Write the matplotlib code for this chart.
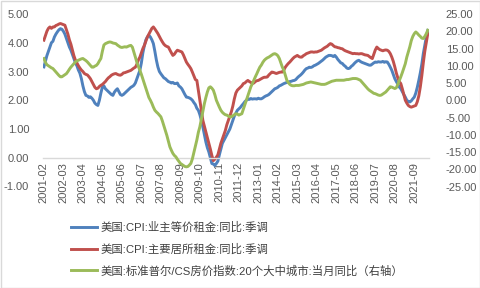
import numpy as np
import pandas as pd
import matplotlib
matplotlib.use('Agg')
import matplotlib.pyplot as plt
from matplotlib.patches import Rectangle
from matplotlib.ticker import FormatStrFormatter

months = pd.period_range('2001-02', periods=257, freq='M')

# 美国:CPI:业主等价租金:同比:季调 (%)
oer = [
    3.16, 3.35, 3.55, 3.70, 3.85, 4.00, 4.05, 4.20, 4.30, 4.38, 4.45, 4.49,
    4.47, 4.40, 4.30, 4.15, 4.00, 3.85, 3.74, 3.60, 3.45, 3.30, 3.20, 3.05,
    2.94, 2.75, 2.50, 2.30, 2.17, 2.15, 2.10, 2.12, 2.07, 2.00, 1.90, 1.85,
    1.82, 2.00, 2.25, 2.46, 2.50, 2.40, 2.35, 2.30, 2.25, 2.20, 2.17, 2.28,
    2.35, 2.40, 2.30, 2.20, 2.17, 2.20, 2.25, 2.30, 2.35, 2.40, 2.45, 2.48,
    2.52, 2.60, 2.75, 2.90, 3.04, 3.30, 3.65, 3.90, 4.10, 4.20, 4.26, 4.20,
    4.10, 3.97, 3.70, 3.40, 3.16, 3.00, 2.92, 2.85, 2.78, 2.75, 2.70, 2.65,
    2.63, 2.60, 2.62, 2.58, 2.58, 2.60, 2.50, 2.46, 2.40, 2.30, 2.20, 2.11,
    2.10, 2.08, 2.05, 2.00, 1.92, 1.85, 1.72, 1.65, 1.50, 1.30, 1.07, 0.80,
    0.55, 0.35, 0.20, 0.00, -0.20, -0.22, -0.27, -0.20, -0.12, 0.10, 0.30, 0.50,
    0.60, 0.70, 0.80, 0.90, 1.00, 1.15, 1.30, 1.45, 1.55, 1.65, 1.70, 1.75,
    1.82, 1.88, 1.95, 2.00, 2.05, 2.03, 2.06, 2.04, 2.05, 2.05, 2.04, 2.07,
    2.05, 2.05, 2.08, 2.12, 2.15, 2.17, 2.20, 2.25, 2.30, 2.35, 2.40, 2.42,
    2.45, 2.50, 2.52, 2.55, 2.58, 2.60, 2.62, 2.63, 2.65, 2.66, 2.68, 2.69,
    2.72, 2.78, 2.83, 2.87, 2.92, 2.98, 3.05, 3.10, 3.12, 3.15, 3.14, 3.16,
    3.20, 3.22, 3.25, 3.28, 3.32, 3.36, 3.40, 3.45, 3.50, 3.53, 3.56, 3.56,
    3.55, 3.52, 3.56, 3.50, 3.42, 3.36, 3.30, 3.28, 3.22, 3.18, 3.12, 3.10,
    3.12, 3.18, 3.22, 3.28, 3.33, 3.37, 3.39, 3.35, 3.32, 3.30, 3.28, 3.26,
    3.24, 3.22, 3.22, 3.26, 3.30, 3.33, 3.32, 3.34, 3.33, 3.33, 3.35, 3.32,
    3.34, 3.33, 3.25, 3.15, 3.04, 2.90, 2.75, 2.65, 2.56, 2.46, 2.40, 2.30,
    2.20, 2.11, 2.00, 1.96, 1.94, 1.98, 2.05, 2.11, 2.25, 2.45, 2.69, 2.95,
    3.25, 3.62, 3.90, 4.20, 4.43,
]

# 美国:CPI:主要居所租金:同比:季调 (%)
rent = [
    4.09, 4.25, 4.40, 4.50, 4.55, 4.50, 4.55, 4.55, 4.60, 4.62, 4.65, 4.67,
    4.65, 4.63, 4.61, 4.45, 4.30, 4.10, 3.95, 3.75, 3.55, 3.40, 3.30, 3.20,
    3.12, 3.05, 3.00, 2.93, 2.90, 2.88, 2.82, 2.75, 2.65, 2.55, 2.45, 2.40,
    2.42, 2.48, 2.52, 2.55, 2.60, 2.65, 2.72, 2.78, 2.82, 2.87, 2.90, 2.92,
    2.93, 2.90, 2.88, 2.87, 2.90, 2.95, 2.96, 2.98, 3.00, 3.02, 3.04, 3.08,
    3.12, 3.15, 3.25, 3.40, 3.50, 3.65, 3.80, 3.91, 4.05, 4.20, 4.30, 4.40,
    4.50, 4.55, 4.48, 4.40, 4.32, 4.22, 4.12, 4.03, 3.95, 3.90, 3.87, 3.85,
    3.75, 3.65, 3.56, 3.60, 3.68, 3.74, 3.72, 3.70, 3.68, 3.58, 3.45, 3.33,
    3.25, 3.18, 3.10, 2.98, 2.85, 2.72, 2.69, 2.35, 2.00, 1.65, 1.30, 1.10,
    0.90, 0.70, 0.50, 0.30, 0.08, -0.10, -0.05, 0.02, 0.10, 0.30, 0.50, 0.65,
    0.80, 0.95, 1.15, 1.30, 1.45, 1.60, 1.80, 2.05, 2.25, 2.35, 2.40, 2.45,
    2.50, 2.58, 2.60, 2.65, 2.69, 2.65, 2.62, 2.58, 2.60, 2.65, 2.68, 2.69,
    2.72, 2.75, 2.78, 2.80, 2.80, 2.81, 2.88, 2.93, 2.98, 2.97, 2.95, 2.93,
    2.95, 2.97, 2.98, 2.98, 3.05, 3.15, 3.22, 3.28, 3.33, 3.39, 3.45, 3.50,
    3.53, 3.56, 3.52, 3.50, 3.50, 3.55, 3.58, 3.62, 3.64, 3.66, 3.68, 3.68,
    3.67, 3.68, 3.68, 3.70, 3.72, 3.74, 3.78, 3.82, 3.85, 3.88, 3.93, 3.97,
    3.95, 3.90, 3.86, 3.85, 3.83, 3.82, 3.80, 3.79, 3.75, 3.72, 3.70, 3.68,
    3.66, 3.64, 3.62, 3.63, 3.62, 3.62, 3.61, 3.62, 3.62, 3.60, 3.58, 3.57,
    3.56, 3.52, 3.48, 3.45, 3.60, 3.75, 3.85, 3.80, 3.76, 3.74, 3.72, 3.74,
    3.75, 3.74, 3.70, 3.62, 3.50, 3.35, 3.16, 2.95, 2.78, 2.65, 2.58, 2.40,
    2.20, 2.00, 1.90, 1.82, 1.78, 1.76, 1.78, 1.80, 1.82, 1.95, 2.15, 2.46,
    2.85, 3.30, 3.70, 4.00, 4.32,
]

# 美国:标准普尔/CS房价指数:20个大中城市:当月同比 (%, right axis)
cs20 = [
    12.1, 11.0, 10.3, 10.0, 9.7, 9.4, 9.2, 8.7, 8.2, 7.7, 7.2, 6.8,
    6.8, 7.1, 7.4, 7.7, 8.3, 9.0, 9.6, 10.1, 10.6, 11.1, 11.4, 11.6,
    11.8, 12.0, 12.1, 11.8, 11.5, 11.1, 10.6, 10.1, 9.6, 9.6, 9.9, 10.1,
    10.6, 11.4, 12.1, 14.2, 16.0, 16.4, 16.6, 16.8, 16.9, 16.8, 16.6, 16.5,
    16.4, 16.0, 15.7, 15.4, 15.3, 15.4, 15.5, 15.4, 15.6, 15.8, 15.9, 15.4,
    14.0, 12.5, 11.0, 9.8, 8.7, 7.5, 6.1, 4.8, 3.5, 2.2, 0.8, 0.0,
    -0.9, -2.0, -2.9, -3.4, -3.8, -4.3, -4.8, -6.0, -7.4, -8.7, -10.2, -11.8,
    -13.5, -14.5, -15.4, -16.0, -16.4, -17.1, -17.7, -18.3, -18.6, -18.9, -19.2, -19.3,
    -19.2, -18.8, -18.3, -17.0, -15.2, -13.5, -11.5, -9.3, -7.7, -5.5, -3.2, -1.0,
    0.8, 2.4, 3.6, 3.9, 3.5, 2.9, 1.6, 0.0, -1.0, -2.0, -2.9, -3.5,
    -3.9, -4.2, -4.3, -4.6, -4.8, -4.8, -4.5, -4.2, -3.9, -4.0, -4.3, -4.1,
    -3.9, -2.6, -1.2, 0.0, 1.2, 2.6, 3.9, 4.8, 5.8, 6.8, 7.7, 8.7,
    9.6, 10.2, 11.0, 11.6, 12.0, 12.3, 12.5, 12.8, 13.1, 13.4, 13.5, 13.3,
    12.9, 12.1, 10.8, 9.6, 8.7, 7.2, 5.8, 5.1, 4.6, 4.3, 4.2, 4.2,
    4.3, 4.3, 4.3, 4.4, 4.5, 4.6, 4.8, 5.0, 5.1, 5.2, 5.3, 5.2,
    5.1, 5.0, 4.9, 4.8, 4.7, 4.6, 4.6, 4.6, 4.7, 4.9, 5.1, 5.3,
    5.5, 5.6, 5.7, 5.8, 5.8, 5.8, 5.8, 5.8, 5.8, 5.9, 6.0, 6.0,
    6.1, 6.2, 6.3, 6.3, 6.3, 6.2, 6.0, 5.8, 5.3, 4.8, 4.3, 3.8,
    3.3, 2.9, 2.6, 2.3, 2.0, 1.9, 1.7, 1.5, 1.4, 1.5, 1.8, 2.1,
    2.4, 2.9, 3.4, 3.9, 3.8, 3.6, 3.4, 3.6, 4.6, 5.7, 6.8, 8.0,
    9.3, 10.6, 12.5, 14.0, 15.5, 17.3, 18.5, 19.3, 19.8, 19.4, 18.9, 18.5,
    18.0, 17.9, 18.5, 19.3, 20.3,
]

labels = [
    '美国:CPI:业主等价租金:同比:季调',
    '美国:CPI:主要居所租金:同比:季调',
    '美国:标准普尔/CS房价指数:20个大中城市:当月同比（右轴）',
]

plt.rcParams['font.family'] = ['Liberation Sans', 'Noto Sans CJK SC']
grey = '#595959'

W, H = 481, 288
fig = plt.figure(figsize=(W / 100, H / 100), dpi=100)
fig.patch.set_facecolor('white')
ax = fig.add_axes([43 / W, 1 - 186.5 / H, (429 - 43) / W, (186.5 - 14) / H])
ax2 = ax.twinx()

x = np.arange(len(months))
l1, = ax.plot(x, oer, color='#4F81BD', lw=2.1, solid_joinstyle='round')
l2, = ax.plot(x, rent, color='#C0504D', lw=2.1, solid_joinstyle='round')
l3, = ax2.plot(x, cs20, color='#9BBB59', lw=2.1, solid_joinstyle='round')

ax.set_xlim(-0.6, len(x) - 0.2)
ax.set_ylim(-1, 5)
ax2.set_ylim(-25, 25)

for a in (ax, ax2):
    for s in a.spines.values():
        s.set_visible(False)
# x axis line sits at 0 on the left scale; moving the spine resets the ticks,
# so the tick setup has to come after it
ax.spines['bottom'].set_visible(True)
ax.spines['bottom'].set_position(('data', 0))
ax.spines['bottom'].set_color('#d9d9d9')
ax.spines['bottom'].set_linewidth(1.0)

ax.set_yticks(np.arange(-1, 6, 1))
ax2.set_yticks(np.arange(-25, 30, 5))
ax.yaxis.set_major_formatter(FormatStrFormatter('%.2f'))
ax2.yaxis.set_major_formatter(FormatStrFormatter('%.2f'))
ax.set_xticks(x[::13])
ax.set_xticklabels(months[::13].strftime('%Y-%m'))

ax.tick_params(axis='x', length=0, pad=3, labelsize=8, labelcolor=grey,
               labelrotation=90)
ax.tick_params(axis='y', length=0, pad=10, labelsize=8, labelcolor=grey)
ax2.tick_params(axis='y', length=0, pad=12, labelsize=8, labelcolor=grey)

fig.legend([l1, l2, l3], labels, loc='upper left',
           bbox_to_anchor=(71 / W, 1 - 222 / H), frameon=False,
           fontsize=8.2, handlelength=2.3, handletextpad=0.3,
           labelspacing=0.9, borderpad=0, borderaxespad=0,
           labelcolor='#404040')

fig.patches.append(Rectangle((0.5 / W, 0.5 / H), 1 - 1.5 / W, 1 - 1.5 / H,
                             transform=fig.transFigure, fill=False,
                             edgecolor='#d9d9d9', lw=1))

fig.savefig('out.png', dpi=100)
